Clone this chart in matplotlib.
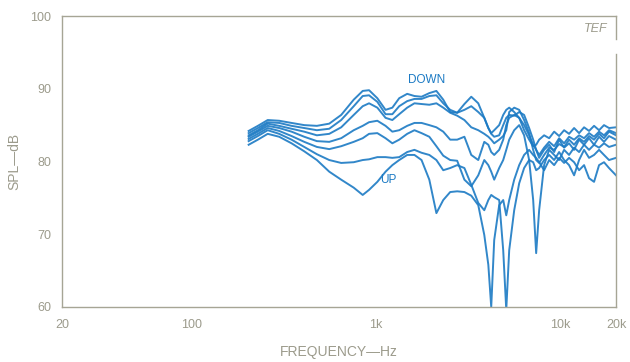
import matplotlib.pyplot as plt
import numpy as np

plt.rcParams['font.family'] = ['Liberation Sans', 'DejaVu Sans']

# frequency points (Hz) shared by all seven responses
freq = [205, 230, 260, 300, 350, 410, 480, 560, 650, 760, 850, 920, 1020, 1130,
        1230, 1340, 1480, 1620, 1770, 1950, 2130, 2320, 2530, 2760, 3020, 3290,
        3590, 3870, 4070, 4220, 4380, 4660, 4900, 5090, 5280, 5620, 5980, 6360,
        6770, 7120, 7390, 7670, 8160, 8690, 9250, 9840, 10470, 11140, 11860,
        12620, 13430, 14290, 15210, 16190, 17220, 18330, 20000]

# SPL (dB), from the "DOWN" position to the "UP" position
spl_1 = [84.2, 84.9, 85.7, 85.6, 85.3, 85.0, 84.9, 85.2, 86.4, 88.5,
         89.7, 89.8, 88.7, 87.1, 87.4, 88.7, 89.3, 89.0, 88.9, 89.4,
         89.7, 88.5, 86.8, 86.7, 87.9, 88.9, 88.0, 86.0, 84.6, 83.9,
         84.3, 85.0, 86.4, 87.1, 87.4, 86.8, 86.0, 84.3, 83.0, 82.1,
         82.3, 83.0, 83.6, 83.2, 84.1, 83.5, 84.3, 83.8, 84.6, 83.9,
         84.7, 84.2, 84.9, 84.3, 85.0, 84.6, 84.7]
spl_2 = [83.9, 84.6, 85.4, 85.3, 84.9, 84.6, 84.3, 84.5, 85.7, 87.6,
         89.0, 89.1, 88.2, 86.5, 86.5, 87.6, 88.3, 88.6, 88.6, 89.0,
         89.1, 88.0, 87.1, 86.7, 87.1, 87.6, 86.8, 86.0, 84.6, 83.8,
         83.4, 83.6, 85.0, 86.0, 86.4, 86.3, 86.8, 86.4, 84.6, 83.0,
         81.6, 80.9, 81.9, 82.7, 82.1, 83.2, 82.5, 83.4, 83.0, 83.6,
         83.2, 83.9, 83.4, 84.1, 83.6, 84.3, 83.9]
spl_3 = [83.6, 84.3, 85.2, 84.9, 84.5, 84.1, 83.6, 83.8, 84.7, 86.4,
         87.6, 88.0, 87.4, 86.0, 85.7, 86.5, 87.4, 88.0, 87.9, 87.8,
         88.0, 87.4, 86.7, 86.3, 85.7, 84.7, 84.3, 83.8, 83.4, 83.0,
         82.5, 83.0, 83.5, 84.3, 86.8, 87.4, 87.1, 85.7, 83.9, 81.6,
         80.2, 79.8, 80.9, 81.9, 81.6, 82.4, 82.0, 83.0, 82.3, 83.2,
         82.7, 83.5, 83.0, 83.8, 83.2, 84.1, 83.6]
spl_4 = [83.4, 84.1, 84.9, 84.6, 84.1, 83.4, 82.8, 82.7, 83.2, 84.3,
         84.9, 85.4, 85.6, 84.9, 84.1, 84.3, 84.9, 85.3, 85.3, 85.0,
         84.7, 84.1, 83.0, 83.0, 83.4, 80.9, 80.2, 82.7, 82.3, 81.3,
         80.9, 81.6, 83.0, 85.0, 86.0, 86.4, 86.0, 85.0, 83.6, 82.3,
         81.6, 80.5, 81.6, 82.3, 81.3, 83.0, 81.9, 82.5, 81.6, 83.0,
         82.3, 83.2, 82.3, 83.4, 82.7, 83.5, 83.0]
spl_5 = [83.1, 83.8, 84.6, 84.2, 83.5, 82.7, 82.0, 81.7, 82.1, 82.7,
         83.2, 83.8, 83.9, 83.2, 82.5, 83.0, 83.8, 84.3, 83.9, 83.4,
         82.1, 80.8, 80.2, 80.1, 77.5, 76.6, 78.1, 80.2, 79.5, 78.6,
         77.5, 79.1, 80.2, 81.6, 83.0, 84.3, 85.0, 83.6, 80.2, 74.7,
         67.4, 73.3, 79.5, 81.6, 80.9, 80.2, 81.6, 80.9, 81.9, 81.3,
         82.3, 81.6, 82.3, 81.9, 82.5, 82.0, 82.3]
spl_6 = [82.8, 83.5, 84.3, 83.8, 83.0, 82.0, 81.0, 80.2, 79.8, 79.9,
         80.2, 80.3, 80.6, 80.6, 80.5, 80.6, 81.3, 81.6, 81.2, 80.9,
         80.2, 78.8, 79.1, 79.5, 79.1, 76.8, 74.3, 73.3, 74.7, 75.4,
         75.1, 74.7, 67.8, 59.6, 67.8, 73.3, 77.0, 79.1, 80.2, 79.9,
         78.8, 79.1, 80.2, 80.9, 80.2, 81.3, 80.2, 79.5, 78.1, 80.2,
         81.6, 80.5, 80.9, 81.6, 80.9, 80.2, 80.5]
spl_7 = [82.3, 83.0, 83.8, 83.4, 82.5, 81.4, 80.2, 78.6, 77.5, 76.4,
         75.4, 76.1, 77.2, 78.6, 79.5, 80.2, 80.9, 80.9, 80.2, 77.5,
         72.9, 74.7, 75.8, 75.9, 75.8, 75.3, 74.0, 69.9, 65.8, 60.0,
         69.2, 74.0, 74.7, 72.6, 74.7, 77.5, 79.5, 80.9, 81.6, 80.9,
         80.5, 79.9, 78.8, 80.2, 79.5, 80.5, 79.8, 80.5, 79.9, 78.8,
         79.5, 77.7, 77.2, 79.5, 79.9, 79.1, 78.1]

curves = [spl_1, spl_2, spl_3, spl_4, spl_5, spl_6, spl_7]

x_ticks = [20, 100, 1000, 10000, 20000]
x_labels = ["20", "100", "1k", "10k", "20k"]
y_ticks = [60, 70, 80, 90, 100]

line_col = "#1b7ac4"
frame_col = "#a6a595"
text_col = "#9c9b8c"

fig = plt.figure(figsize=(6.3, 3.62), dpi=100)
ax = fig.add_axes([0.0984, 0.152, 0.8794, 0.8038])

for spl in curves:
    ax.plot(freq, spl, color=line_col, linewidth=1.4, alpha=0.9,
            solid_joinstyle="round")

ax.set_xscale("log")
ax.set_xlim(20, 20000)
ax.set_ylim(60, 100)
ax.set_xticks(x_ticks)
ax.set_xticklabels(x_labels)
ax.minorticks_off()
ax.set_yticks(y_ticks)
ax.tick_params(length=0, colors=text_col, labelsize=9)
ax.tick_params(axis="x", pad=9)
ax.tick_params(axis="y", pad=8)

for side in ["left", "top", "bottom"]:
    ax.spines[side].set_color(frame_col)
    ax.spines[side].set_linewidth(1.0)
ax.spines["right"].set_visible(False)
# right border is broken around the TEF tag
ax.plot([1, 1], [1, 0.92], transform=ax.transAxes, color=frame_col,
        linewidth=1.0, clip_on=False)
ax.plot([1, 1], [0.87, 0], transform=ax.transAxes, color=frame_col,
        linewidth=1.0, clip_on=False)

ax.set_xlabel("FREQUENCY\u2014Hz", color=text_col, fontsize=10, labelpad=10)
ax.set_ylabel("SPL\u2014dB", color=text_col, fontsize=10, labelpad=6)

ax.text(0.985, 0.955, "TEF", transform=ax.transAxes, ha="right", va="center",
        color=text_col, fontsize=9, style="italic")
ax.text(1500, 91.2, "DOWN", color=line_col, fontsize=8.5, ha="left",
        va="center")
ax.text(1050, 77.5, "UP", color=line_col, fontsize=8.5, ha="left",
        va="center")

fig.savefig("out.png", dpi=100)
